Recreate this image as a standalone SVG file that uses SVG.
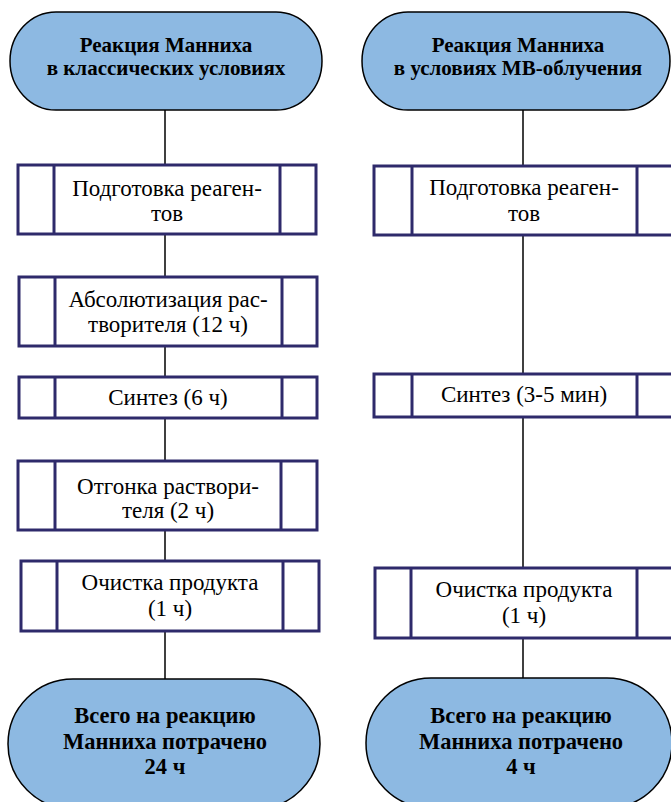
<svg xmlns="http://www.w3.org/2000/svg" width="671" height="802" viewBox="0 0 671 802">
<defs>
<style>
.pill{fill:#8DB9E2;stroke:#000;stroke-width:1.5}
.box{fill:#fff;stroke:#2E2A6B;stroke-width:3}
.conn{stroke:#000;stroke-width:1.5;fill:none}
</style>
</defs>
<rect width="671" height="802" fill="#fff"/>
<g id="connectors">
<line class="conn" x1="165" y1="110" x2="165" y2="165"/>
<line class="conn" x1="165" y1="234" x2="165" y2="277"/>
<line class="conn" x1="165" y1="346" x2="165" y2="377"/>
<line class="conn" x1="165" y1="418" x2="165" y2="461"/>
<line class="conn" x1="165" y1="530" x2="165" y2="561"/>
<line class="conn" x1="165" y1="631" x2="165" y2="679"/>
<line class="conn" x1="523" y1="110" x2="523" y2="166"/>
<line class="conn" x1="523" y1="235" x2="523" y2="374"/>
<line class="conn" x1="523" y1="417" x2="523" y2="568"/>
<line class="conn" x1="523" y1="638" x2="523" y2="678"/>
</g>
<g id="start-left">
<rect class="pill" x="10" y="12" width="312" height="98" rx="46" ry="49"/>
<text x="166" y="52" font-family="Liberation Serif" font-weight="bold" font-size="21" text-anchor="middle" style="font-family:'Liberation Serif',serif">Реакция Манниха</text>
<text x="166" y="75" font-family="Liberation Serif" font-weight="bold" font-size="21" text-anchor="middle" style="font-family:'Liberation Serif',serif">в классических условиях</text>
</g>
<g id="start-right">
<rect class="pill" x="362" y="12" width="308" height="98" rx="46" ry="49"/>
<text x="518" y="52" font-family="Liberation Serif" font-weight="bold" font-size="21" text-anchor="middle" style="font-family:'Liberation Serif',serif">Реакция Манниха</text>
<text x="518" y="75" font-family="Liberation Serif" font-weight="bold" font-size="21" text-anchor="middle" style="font-family:'Liberation Serif',serif">в условиях МВ-облучения</text>
</g>
<g id="l1">
<rect class="box" x="18" y="165" width="298" height="69"/>
<line class="box" x1="54" y1="165" x2="54" y2="234"/><line class="box" x1="280" y1="165" x2="280" y2="234"/>
<text x="167" y="196" font-family="Liberation Serif" font-size="23" text-anchor="middle" style="font-family:'Liberation Serif',serif">Подготовка реаген-</text>
<text x="167" y="221" font-family="Liberation Serif" font-size="23" text-anchor="middle" style="font-family:'Liberation Serif',serif">тов</text>
</g>
<g id="l2">
<rect class="box" x="19" y="277" width="298" height="69"/>
<line class="box" x1="55" y1="277" x2="55" y2="346"/><line class="box" x1="282" y1="277" x2="282" y2="346"/>
<text x="168" y="307" font-family="Liberation Serif" font-size="23" text-anchor="middle" style="font-family:'Liberation Serif',serif">Абсолютизация рас-</text>
<text x="168" y="332" font-family="Liberation Serif" font-size="23" text-anchor="middle" style="font-family:'Liberation Serif',serif">творителя (12 ч)</text>
</g>
<g id="l3">
<rect class="box" x="19" y="377" width="298" height="41"/>
<line class="box" x1="55" y1="377" x2="55" y2="418"/><line class="box" x1="282" y1="377" x2="282" y2="418"/>
<text x="168" y="405" font-family="Liberation Serif" font-size="23" text-anchor="middle" style="font-family:'Liberation Serif',serif">Синтез (6 ч)</text>
</g>
<g id="l4">
<rect class="box" x="18" y="461" width="299" height="69"/>
<line class="box" x1="55" y1="461" x2="55" y2="530"/><line class="box" x1="281" y1="461" x2="281" y2="530"/>
<text x="168" y="494" font-family="Liberation Serif" font-size="23" text-anchor="middle" style="font-family:'Liberation Serif',serif">Отгонка раствори-</text>
<text x="168" y="518" font-family="Liberation Serif" font-size="23" text-anchor="middle" style="font-family:'Liberation Serif',serif">теля (2 ч)</text>
</g>
<g id="l5">
<rect class="box" x="21" y="561" width="298" height="70"/>
<line class="box" x1="57" y1="561" x2="57" y2="631"/><line class="box" x1="283" y1="561" x2="283" y2="631"/>
<text x="170" y="590" font-family="Liberation Serif" font-size="23" text-anchor="middle" style="font-family:'Liberation Serif',serif">Очистка продукта</text>
<text x="170" y="616" font-family="Liberation Serif" font-size="23" text-anchor="middle" style="font-family:'Liberation Serif',serif">(1 ч)</text>
</g>
<g id="r1">
<rect class="box" x="374" y="166" width="300" height="69"/>
<line class="box" x1="412" y1="166" x2="412" y2="235"/><line class="box" x1="637" y1="166" x2="637" y2="235"/>
<text x="524" y="195" font-family="Liberation Serif" font-size="23" text-anchor="middle" style="font-family:'Liberation Serif',serif">Подготовка реаген-</text>
<text x="524" y="221" font-family="Liberation Serif" font-size="23" text-anchor="middle" style="font-family:'Liberation Serif',serif">тов</text>
</g>
<g id="r2">
<rect class="box" x="374" y="374" width="300" height="43"/>
<line class="box" x1="412" y1="374" x2="412" y2="417"/><line class="box" x1="637" y1="374" x2="637" y2="417"/>
<text x="524" y="402" font-family="Liberation Serif" font-size="23" text-anchor="middle" style="font-family:'Liberation Serif',serif">Синтез (3-5 мин)</text>
</g>
<g id="r3">
<rect class="box" x="375" y="568" width="300" height="70"/>
<line class="box" x1="411" y1="568" x2="411" y2="638"/><line class="box" x1="637" y1="568" x2="637" y2="638"/>
<text x="524" y="597" font-family="Liberation Serif" font-size="23" text-anchor="middle" style="font-family:'Liberation Serif',serif">Очистка продукта</text>
<text x="524" y="623" font-family="Liberation Serif" font-size="23" text-anchor="middle" style="font-family:'Liberation Serif',serif">(1 ч)</text>
</g>
<g id="end-left">
<rect class="pill" x="8" y="679" width="312" height="130" rx="65" ry="65"/>
<text x="165" y="723" font-family="Liberation Serif" font-weight="bold" font-size="22.5" text-anchor="middle" style="font-family:'Liberation Serif',serif">Всего на реакцию</text>
<text x="165" y="749" font-family="Liberation Serif" font-weight="bold" font-size="22.5" text-anchor="middle" style="font-family:'Liberation Serif',serif">Манниха потрачено</text>
<text x="165" y="774" font-family="Liberation Serif" font-weight="bold" font-size="22.5" text-anchor="middle" style="font-family:'Liberation Serif',serif">24 ч</text>
</g>
<g id="end-right">
<rect class="pill" x="366" y="678" width="306" height="130" rx="65" ry="65"/>
<text x="521" y="723" font-family="Liberation Serif" font-weight="bold" font-size="22.5" text-anchor="middle" style="font-family:'Liberation Serif',serif">Всего на реакцию</text>
<text x="521" y="749" font-family="Liberation Serif" font-weight="bold" font-size="22.5" text-anchor="middle" style="font-family:'Liberation Serif',serif">Манниха потрачено</text>
<text x="521" y="774" font-family="Liberation Serif" font-weight="bold" font-size="22.5" text-anchor="middle" style="font-family:'Liberation Serif',serif">4 ч</text>
</g>
</svg>
